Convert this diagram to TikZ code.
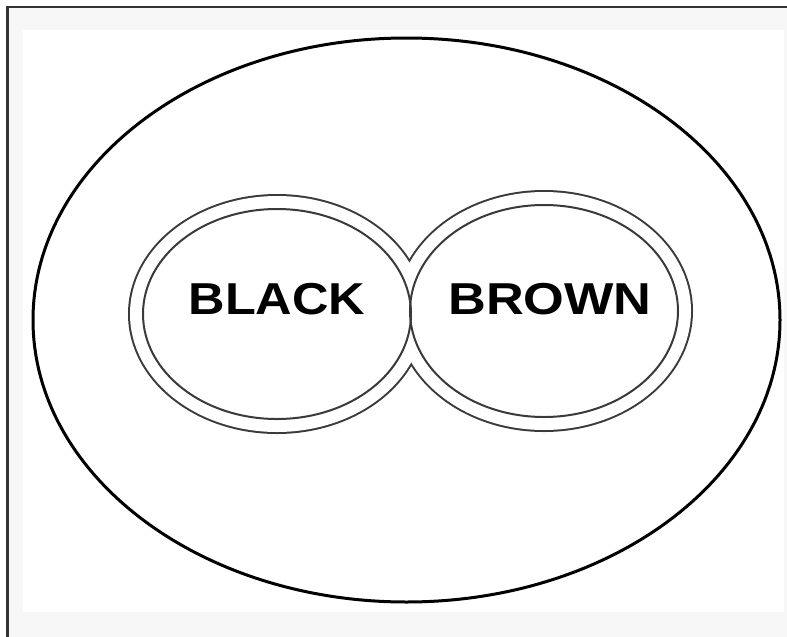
\documentclass[tikz,border=0pt]{standalone}
\usepackage{fontspec}
\setmainfont{Liberation Sans}
\definecolor{ringgray}{HTML}{3A3A3A}
\definecolor{bggray}{HTML}{F7F7F7}
\definecolor{framegray}{HTML}{333333}
\tikzset{
  ringline/.style={draw=ringgray, line width=2pt},
  labeltext/.style={inner sep=0pt, font=\bfseries\fontsize{44.7}{50}\selectfont},
}
\begin{document}
\begin{tikzpicture}[x=1pt,y=-1pt]
\useasboundingbox (0,0) rectangle (787,637);
% backgrounds
\fill[white] (0,0) rectangle (787,637);
\fill[bggray] (7,7) rectangle (787,637);
\fill[white] (23,30) rectangle (784,612);
% frame lines (top and left)
\draw[framegray, line width=2.5pt] (7.5,637) -- (7.5,7) -- (787,7);
% outer ellipse
\draw[black, line width=3pt] (406.5,320) ellipse [x radius=373.5, y radius=282];
% union outline of the two outer rings
\draw[ringgray, line width=4pt] (277,314) ellipse [x radius=147, y radius=118];
\draw[ringgray, line width=4pt] (544,311) ellipse [x radius=147, y radius=119];
\fill[white] (277,314) ellipse [x radius=147, y radius=118];
\fill[white] (544,311) ellipse [x radius=147, y radius=119];
% inner rings
\draw[ringline] (277,314) ellipse [x radius=134, y radius=105];
\draw[ringline] (544,311) ellipse [x radius=134, y radius=106];
% labels
\node[labeltext] (black) at (277,299) {\scalebox{1.13}[1]{BLACK}};
\node[labeltext] (brown) at (550,299) {\scalebox{1.17}[1]{BROWN}};
\end{tikzpicture}
\end{document}
